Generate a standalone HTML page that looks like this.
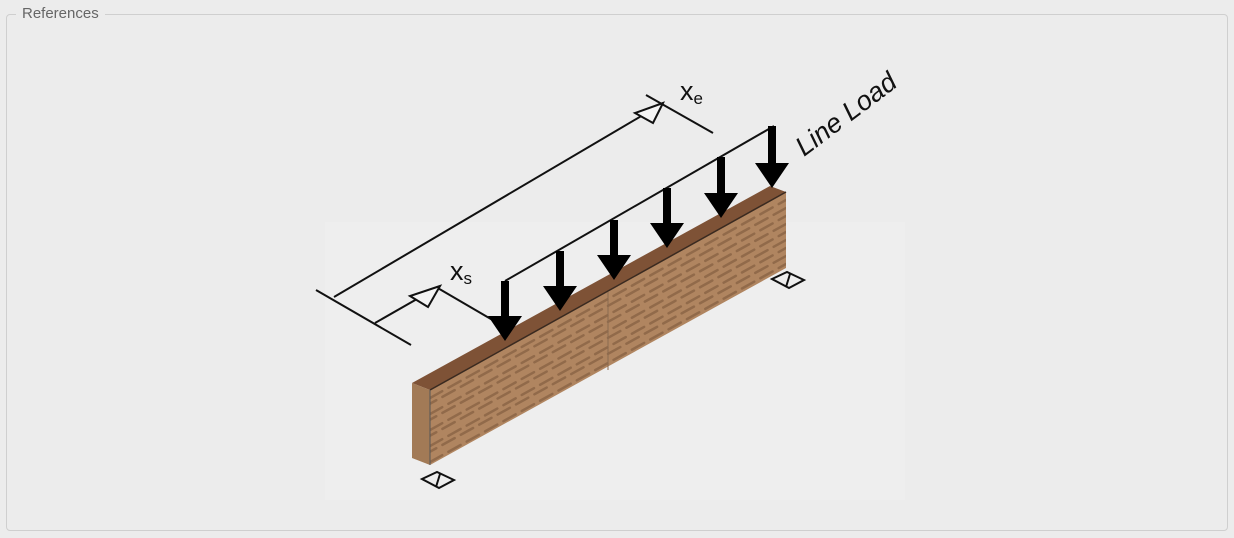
<!DOCTYPE html>
<html><head><meta charset="utf-8"><style>
html,body{margin:0;padding:0;background:#ececec;}
body{width:1234px;height:538px;position:relative;overflow:hidden;font-family:"Liberation Sans",sans-serif;}
.fs{position:absolute;left:6px;top:14px;width:1220px;height:515px;border:1px solid #cfcfcf;border-radius:4px;}
.lg{position:absolute;left:16px;top:5px;padding:0 6px;background:#ececec;color:#666;font-size:15px;}
svg{position:absolute;left:0;top:0;}
</style></head><body>
<div class="fs"></div><div class="lg">References</div>
<svg width="1234" height="538" viewBox="0 0 1234 538">
<defs>
<clipPath id="c"><polygon points="430,390 786,192 786,268 430,465"/></clipPath>
</defs>
<rect x="325" y="222" width="580" height="278" fill="#eeeeee"/>
<polygon points="430,390 786,192 786,268 430,465" fill="#b08560"/>
<g clip-path="url(#c)" stroke="#916a4a" stroke-width="2.5" stroke-dasharray="14 7" stroke-linecap="round">
<line x1="430" y1="398" x2="786" y2="200"/>
<line x1="424" y1="407" x2="786" y2="208"/>
<line x1="430" y1="414" x2="786" y2="216"/>
<line x1="424" y1="423" x2="786" y2="224"/>
<line x1="430" y1="430" x2="786" y2="232"/>
<line x1="424" y1="439" x2="786" y2="240"/>
<line x1="430" y1="446" x2="786" y2="248"/>
<line x1="424" y1="455" x2="786" y2="256"/>
<line x1="430" y1="462" x2="786" y2="264"/>
</g>
<polygon points="412,383 770,186 786,192 430,390" fill="#7e5236"/>
<polygon points="412,383 430,390 430,465 412,458" fill="#a27a56"/>
<line x1="430" y1="390" x2="786" y2="192" stroke="#3a2a20" stroke-width="1.5"/>
<line x1="430" y1="390" x2="430" y2="465" stroke="#555" stroke-width="1"/>
<line x1="608" y1="292" x2="608" y2="370" stroke="#8a6a50" stroke-width="1"/>
<g fill="none" stroke="#111" stroke-width="2">
<polygon points="422,479 437,472 454,480 439,488"/>
<line x1="440" y1="474" x2="436" y2="487"/>
<polygon points="772,279 787,272 804,280 789,288"/>
<line x1="790" y1="274" x2="786" y2="287"/>
</g>
<g stroke="#111" stroke-width="2" fill="none">
<line x1="316" y1="290" x2="411" y2="345"/>
<line x1="334" y1="297" x2="660" y2="105"/>
<line x1="646" y1="95" x2="713" y2="133"/>
<polygon points="663,103 635,113 653,123" fill="#f4f4f4"/>
<line x1="375" y1="323" x2="438" y2="287"/>
<line x1="436" y1="287" x2="496" y2="322"/>
<polygon points="440,286 410,296 428,307" fill="#f4f4f4"/>
<line x1="505" y1="281" x2="774" y2="126"/>
</g>
<g fill="#000">
<path d="M501,281h8v35h13l-17,25l-17,-25h13z"/>
<path d="M556,251h8v35h13l-17,25l-17,-25h13z"/>
<path d="M610,220h8v35h13l-17,25l-17,-25h13z"/>
<path d="M663,188h8v35h13l-17,25l-17,-25h13z"/>
<path d="M717,157h8v36h13l-17,25l-17,-25h13z"/>
<path d="M768,126h8v37h13l-17,25l-17,-25h13z"/>
</g>
<text x="680" y="100" font-size="27" fill="#111">x<tspan font-size="17" dy="4">e</tspan></text>
<text x="450" y="280" font-size="27" fill="#111">x<tspan font-size="17" dy="4">s</tspan></text>
<text transform="translate(804,157) rotate(-37)" font-size="27" font-style="italic" fill="#111">Line Load</text>
</svg>
</body></html>
